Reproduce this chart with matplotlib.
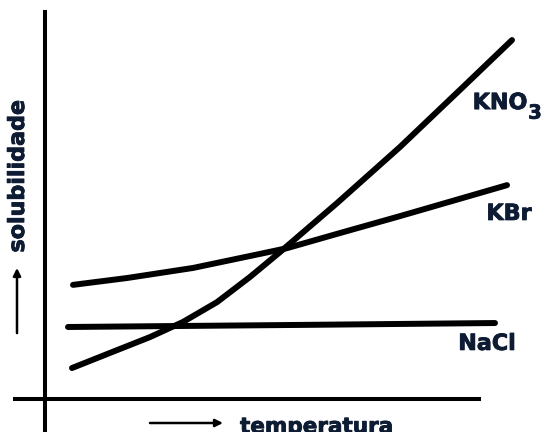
#!/usr/bin/env python3
import matplotlib

matplotlib.use("Agg")
import matplotlib.pyplot as plt
import matplotlib.patheffects as pe

# solubility curves (arbitrary units, temperature 0..100)
kno3_temp = [5.4, 13.0, 21.0, 27.6, 34.4, 41.0, 47.0, 58.4, 71.0, 83.4, 93.4]
kno3_sol = [8.6, 12.8, 17.2, 21.4, 26.9, 33.9, 40.8, 54.4, 70.0, 86.4, 99.7]

kbr_temp = [5.6, 16.4, 29.6, 43.0, 48.4, 59.0, 71.0, 92.4]
kbr_sol = [31.7, 33.6, 36.4, 40.3, 41.9, 46.1, 50.8, 59.4]

nacl_temp = [4.6, 53.0, 90.0]
nacl_sol = [20.0, 20.6, 21.1]

TEXT = "#0d1b33"

fig = plt.figure(figsize=(5.46, 4.32), dpi=100)
ax = fig.add_axes([0, 0, 1, 1])
ax.set_xlim(-9, 100.2)
ax.set_ylim(-9.17, 110.83)

for series_t, series_s in [
    (kno3_temp, kno3_sol),
    (kbr_temp, kbr_sol),
    (nacl_temp, nacl_sol),
]:
    ax.plot(series_t, series_s, color="black", lw=4.3, solid_capstyle="round",
            solid_joinstyle="round")

# axes drawn as crossing lines
for side in ("top", "right"):
    ax.spines[side].set_visible(False)
ax.spines["left"].set_position(("data", 0))
ax.spines["left"].set_bounds(-9.2, 107.5)
ax.spines["bottom"].set_position(("data", 0))
ax.spines["bottom"].set_bounds(-6, 86.8)
for side in ("left", "bottom"):
    ax.spines[side].set_linewidth(2.9)
    ax.spines[side].set_color("black")
ax.set_xticks([])
ax.set_yticks([])

heavy = [pe.withStroke(linewidth=0.6, foreground=TEXT)]
font = dict(color=TEXT, fontweight="bold", family="DejaVu Sans",
            path_effects=heavy)
ax.text(91, 82.2, "KNO", fontsize=16, ha="center", va="center", **font)
ax.text(98, 79.4, "3", fontsize=14, ha="center", va="center", **font)
ax.text(92.8, 51.4, "KBr", fontsize=16, ha="center", va="center", **font)
ax.text(88.4, 15.3, "NaCl", fontsize=16, ha="center", va="center", **font)
ax.text(-5.4, 61.9, "solubilidade", fontsize=16, rotation=90,
        ha="center", va="center", **font)
ax.text(39, -9.44, "temperatura", fontsize=15.5, ha="left", va="baseline",
        **font)

arrow = dict(arrowstyle="-|>", lw=1.8, color="black", mutation_scale=11,
             shrinkA=0, shrinkB=0)
ax.annotate("", xy=(-5.6, 36.4), xytext=(-5.6, 18.3), arrowprops=arrow)
ax.annotate("", xy=(35.6, -6.67), xytext=(21, -6.67), arrowprops=arrow)

fig.savefig("out.png", dpi=100)
plt.close(fig)
